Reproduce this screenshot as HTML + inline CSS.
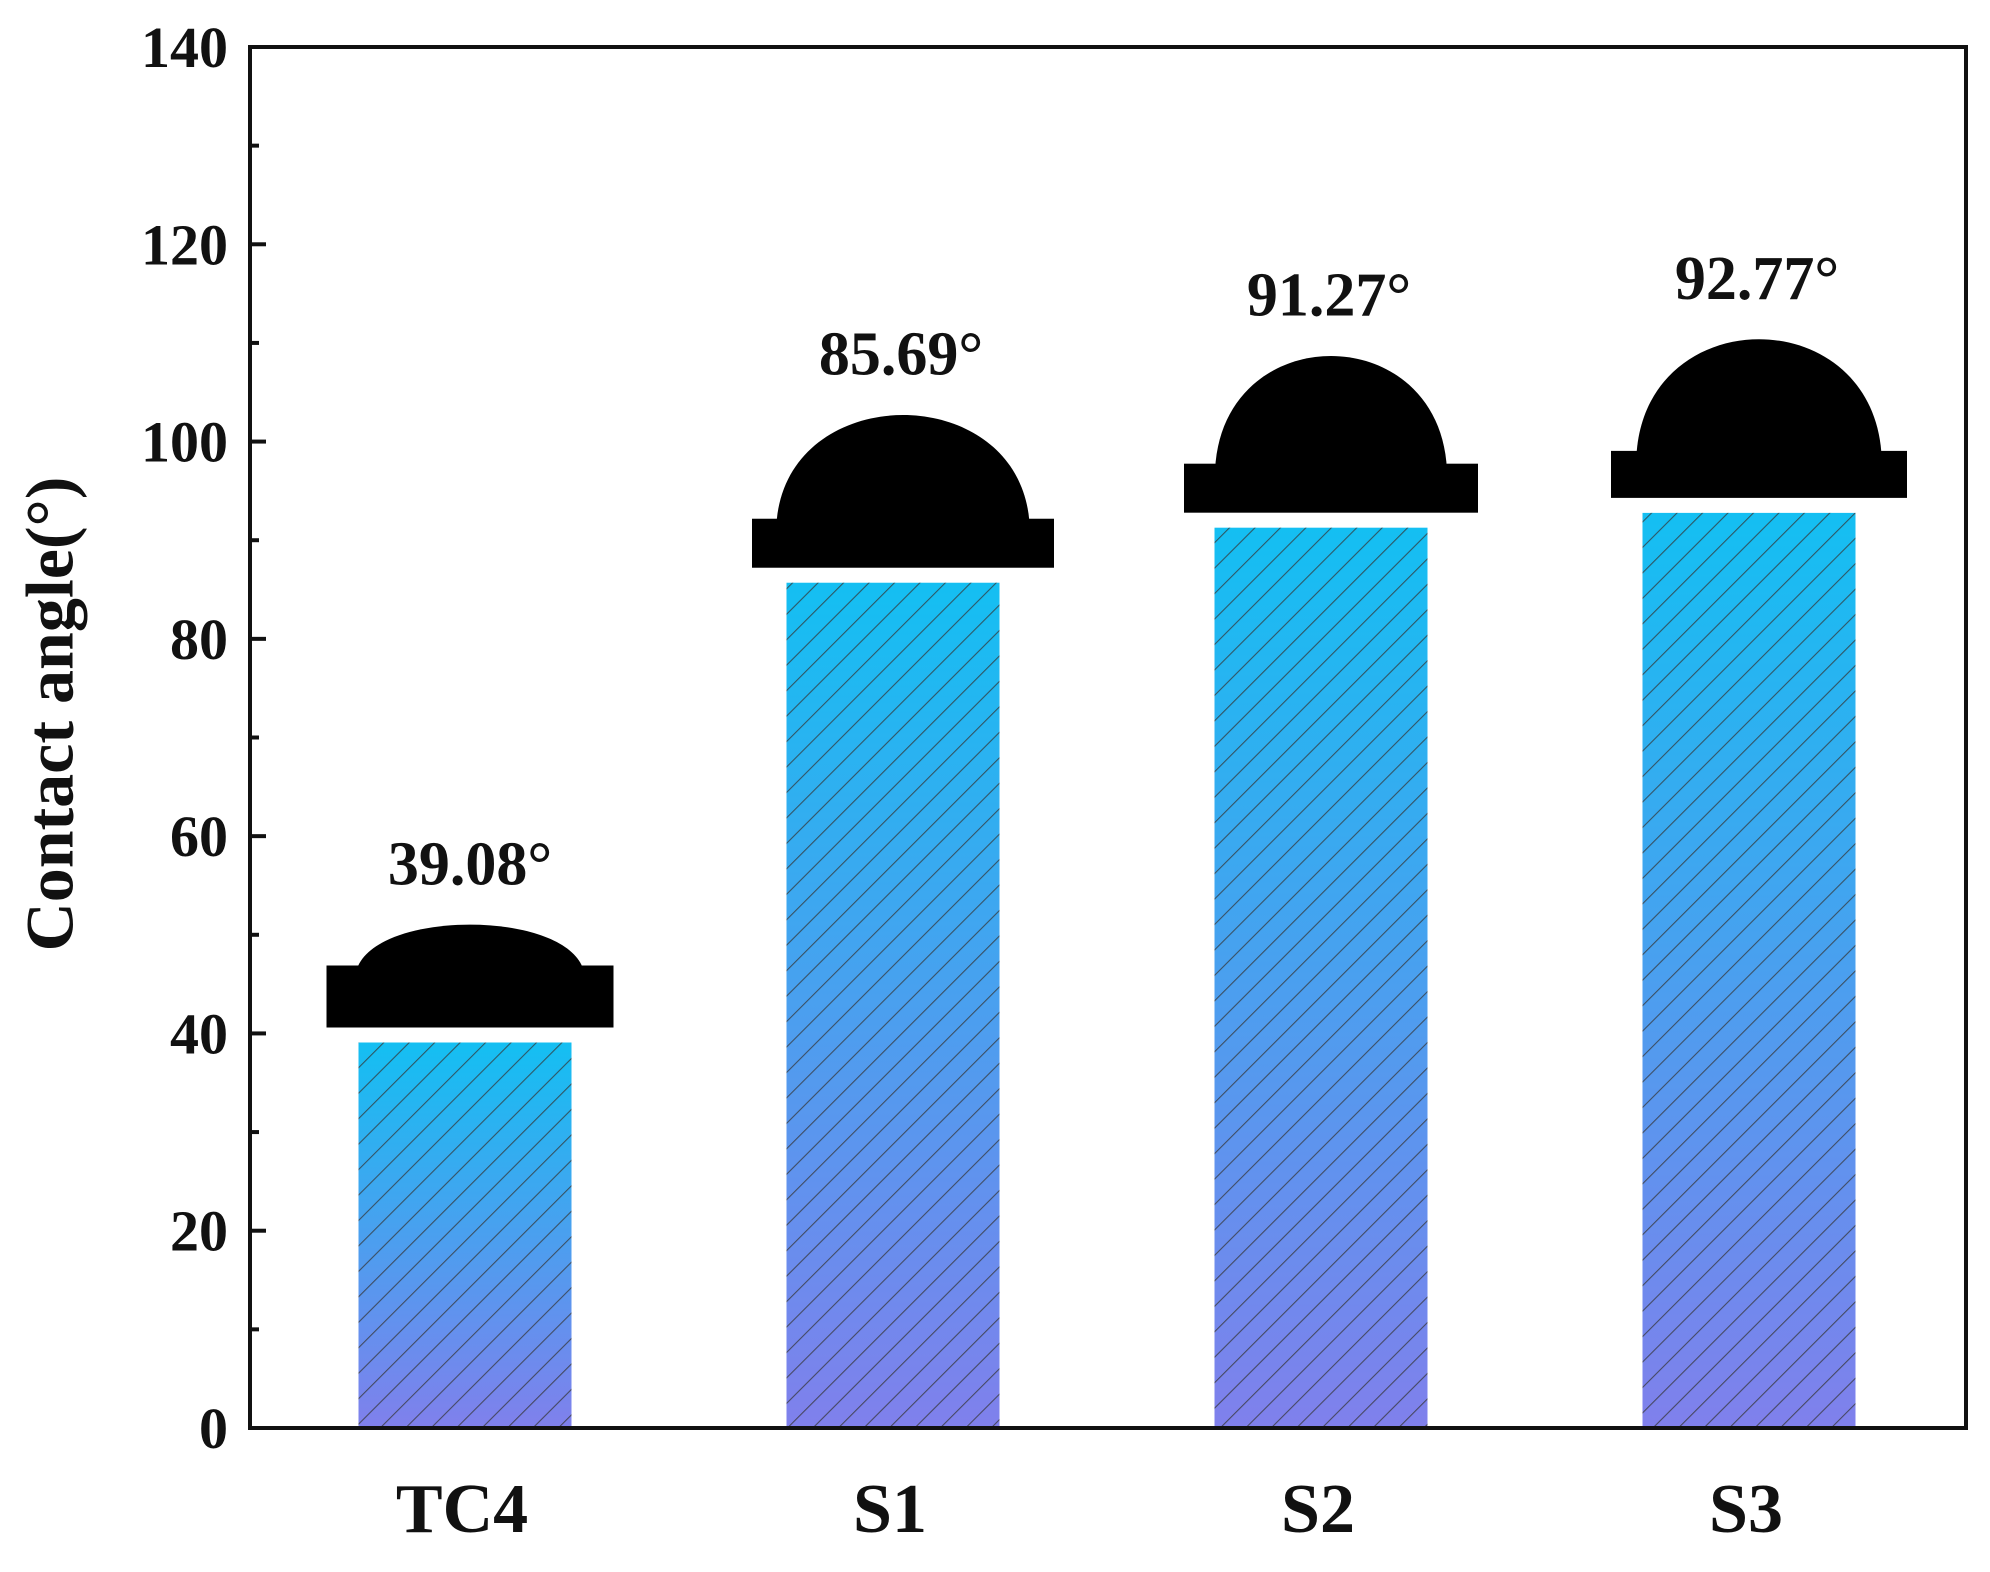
<!DOCTYPE html>
<html><head><meta charset="utf-8"><style>
html,body{margin:0;padding:0;background:#fff;}
svg text{font-family:"Liberation Serif",serif;font-weight:bold;fill:#111;}
</style></head><body>
<svg id="chart" width="1990" height="1567" viewBox="0 0 1990 1567" xmlns="http://www.w3.org/2000/svg">
<defs>
<linearGradient id="barGrad" x1="0" y1="0" x2="0" y2="1">
<stop offset="0" stop-color="#14bff2"/><stop offset="1" stop-color="#8080ec"/>
</linearGradient>
<pattern id="hatch" patternUnits="userSpaceOnUse" width="18" height="18" patternTransform="rotate(45)">
<line x1="0" y1="0" x2="0" y2="18" stroke="#333" stroke-width="2.2" opacity="0.75"/>
</pattern>
</defs>
<g id="bars"></g>
<g id="drops"></g>
<g id="axes"></g>
<text x="57" y="714" font-size="68" text-anchor="middle" transform="rotate(-90 57 714)" dominant-baseline="middle">Contact angle(°)</text>
</svg>
<script>
const categories = ["TC4","S1","S2","S3"];
const values = [39.08, 85.69, 91.27, 92.77];
const valueLabels = ["39.08°","85.69°","91.27°","92.77°"];
const yTicks = [0,20,40,60,80,100,120,140];
const yMinorTicks = [10,30,50,70,90,110,130];

const NS="http://www.w3.org/2000/svg";
const L=250,R=1966,T=47,B=1428,yMax=140;
const y=v=>B-(v/yMax)*(B-T);
const step=428, x0=465;
const xc=i=>x0+i*step;
const bw=213;
function mk(tag,attrs,parent){const e=document.createElementNS(NS,tag);for(const k in attrs)e.setAttribute(k,attrs[k]);parent.appendChild(e);return e;}
const gb=document.getElementById('bars'),gd=document.getElementById('drops'),ga=document.getElementById('axes');
const svg=document.getElementById('chart');
const dropShape=[[287,62,0.80,55],[302,49,0.84,118],[294,49,0.79,122],[296,47,0.83,126]];
values.forEach((v,i)=>{
  const cx=xc(i), top=y(v);
  const r=mk('rect',{x:cx-bw/2,y:top,width:bw,height:B-top,fill:'url(#barGrad)'},gb);
  
  
  const h=mk('rect',{x:cx-bw/2,y:top,width:bw,height:B-top,fill:'url(#hatch)'},gb);
  
  
  const [rw,rh,df,dh]=dropShape[i];
  const dcx=cx+(i===0?5:10);
  const rb=top-15;
  const g=mk('g',{},gd);
  
  
  mk('rect',{x:dcx-rw/2,y:rb-rh,width:rw,height:rh,fill:'#000'},g);
  const dw=rw*df/2, base=rb-rh+14;
  mk('path',{d:`M${dcx-dw},${base} C${dcx-dw},${base-dh*1.33} ${dcx+dw},${base-dh*1.33} ${dcx+dw},${base} Z`,fill:'#000'},g);
  const t=mk('text',{x:cx+(i===0?5:8),y:base-dh-40,'font-size':62,'text-anchor':'middle'},svg);
  t.textContent=valueLabels[i];
  
  
  const c=mk('text',{x:cx-3,y:1532,'font-size':70,'text-anchor':'middle'},svg);
  c.textContent=categories[i];
  
  
});
const frame=mk('rect',{x:L,y:T,width:R-L,height:B-T,fill:'none',stroke:'#111','stroke-width':4},ga);


yTicks.forEach(v=>{
  const ln=mk('line',{x1:L,x2:L+16,y1:y(v),y2:y(v),stroke:'#111','stroke-width':4},ga);
  
  
  const t=mk('text',{x:L-22,y:y(v)+20,'font-size':58,'text-anchor':'end'},svg);
  t.textContent=v;
  
  
});
yMinorTicks.forEach(v=>{
  const ln=mk('line',{x1:L,x2:L+9,y1:y(v),y2:y(v),stroke:'#111','stroke-width':4},ga);
  
  
});
</script>
</body></html>
